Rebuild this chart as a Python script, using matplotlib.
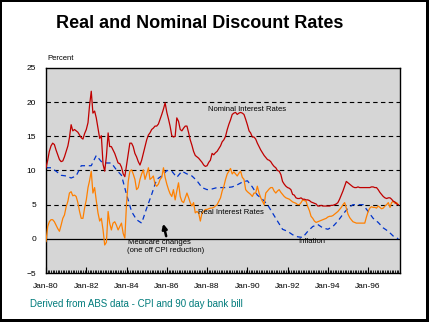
import numpy as np
import pandas as pd
import matplotlib
matplotlib.use('Agg')
from matplotlib import pyplot as plt
import matplotlib.dates as mdates
from matplotlib.patches import Rectangle

plt.rcParams['font.family'] = ['Liberation Sans', 'DejaVu Sans']

# monthly 90 day bank bill rate, Jan-80 .. Jul-97
nominal = [
    10.4, 11.5, 12.8, 13.6, 14.0, 13.8, 13.0, 12.3, 11.6, 11.3, 11.4, 12.0,
    12.8, 13.6, 14.8, 16.7, 15.8, 16.0, 15.8, 15.6, 15.2, 14.8, 14.6, 15.4,
    16.0, 17.0, 19.5, 21.6, 18.4, 18.7, 17.7, 16.2, 14.7, 15.1, 10.9, 9.9,
    12.1, 15.5, 13.5, 13.5, 13.0, 12.5, 11.8, 11.1, 11.0, 10.5, 9.5, 9.1,
    10.8, 12.5, 14.0, 14.0, 13.5, 12.5, 12.0, 11.3, 10.8, 11.5, 12.5, 13.5,
    14.5, 15.2, 15.5, 16.0, 16.2, 16.5, 16.5, 16.8, 17.5, 18.2, 19.0, 19.9,
    18.5, 17.5, 16.5, 15.1, 14.9, 15.0, 17.7, 17.2, 16.0, 15.8, 16.2, 16.5,
    16.5, 15.5, 14.5, 13.7, 12.8, 12.2, 12.0, 11.8, 11.5, 11.2, 10.8, 10.6,
    10.7, 11.2, 11.5, 12.5, 12.3, 12.6, 12.8, 13.2, 13.6, 14.2, 14.5, 15.0,
    16.0, 16.8, 17.4, 18.2, 18.4, 18.5, 18.2, 18.4, 18.5, 18.4, 18.2, 17.5,
    16.7, 15.8, 15.5, 14.9, 14.9, 14.6, 14.0, 13.5, 13.0, 12.6, 12.2, 11.9,
    11.6, 11.5, 11.3, 10.9, 10.6, 10.4, 10.0, 9.9, 9.4, 8.4, 8.0, 7.7,
    7.5, 7.4, 7.2, 6.5, 6.4, 6.0, 5.9, 5.9, 6.0, 5.8, 5.8, 5.7,
    5.7, 5.6, 5.4, 5.3, 5.2, 5.1, 4.8, 4.8, 4.9, 4.8, 4.8, 4.8,
    4.8, 4.8, 4.9, 4.9, 5.0, 5.1, 5.3, 5.8, 6.4, 7.0, 7.7, 8.4,
    8.2, 8.0, 7.8, 7.6, 7.5, 7.5, 7.6, 7.5, 7.5, 7.5, 7.5, 7.5,
    7.5, 7.5, 7.6, 7.6, 7.5, 7.5, 7.2, 6.8, 6.5, 6.2, 6.0, 5.9,
    6.0, 6.0, 5.8, 5.5, 5.4, 5.1, 5.0,
]

# monthly real rate
real = [
    -0.4, 1.8, 2.5, 2.8, 2.8, 2.5, 2.0, 1.5, 1.1, 2.0, 3.0, 3.5,
    4.7, 5.5, 6.7, 6.9, 6.3, 6.4, 6.2, 5.3, 4.0, 3.0, 3.0, 4.5,
    5.7, 7.5, 8.5, 9.9, 6.7, 7.5, 5.6, 3.8, 2.6, 3.0, 1.3, -0.9,
    -0.5, 4.0, 2.3, 1.3, 2.3, 2.5, 2.0, 1.3, 1.8, 2.3, 0.8, 0.1,
    5.2, 8.4, 9.9, 10.1, 9.5, 8.7, 7.2, 7.5, 8.7, 9.5, 10.1, 8.7,
    9.5, 10.4, 8.7, 8.9, 9.2, 8.0, 7.7, 8.0, 8.7, 9.0, 10.4, 9.0,
    8.0, 7.2, 6.6, 6.2, 7.2, 5.7, 7.0, 8.2, 6.2, 5.5, 5.3, 6.0,
    6.7, 6.0, 5.3, 4.8, 5.3, 3.8, 4.0, 3.8, 2.6, 3.8, 4.0, 4.3,
    4.3, 4.4, 4.5, 4.5, 4.6, 4.8, 5.0, 5.5, 6.0, 7.0, 7.7, 8.7,
    9.5, 9.9, 10.3, 9.5, 9.8, 9.5, 9.2, 9.6, 9.9, 9.0, 8.7, 7.2,
    6.9, 6.7, 6.5, 6.2, 6.7, 6.7, 7.7, 6.7, 6.0, 5.5, 5.0, 6.7,
    7.0, 7.3, 7.5, 7.5, 7.0, 6.7, 7.0, 7.2, 6.8, 6.5, 6.2, 6.0,
    5.9, 5.8, 5.6, 5.4, 5.3, 5.2, 5.0, 5.0, 5.3, 5.7, 5.6, 5.5,
    4.7, 4.1, 3.3, 3.0, 2.6, 2.4, 2.5, 2.6, 2.7, 2.8, 2.9, 3.0,
    3.2, 3.3, 3.3, 3.4, 3.6, 3.8, 4.0, 4.3, 4.6, 5.0, 5.3, 4.5,
    3.6, 3.1, 2.8, 2.5, 2.4, 2.3, 2.3, 2.3, 2.3, 2.3, 2.3, 3.2,
    4.0, 4.5, 4.7, 4.6, 4.6, 4.5, 4.8, 4.6, 4.4, 4.5, 4.8, 5.0,
    5.3, 4.6, 5.3, 5.5, 5.2, 5.3, 5.0,
]

# quarterly CPI inflation, Jan-80 .. Jul-97
inflation = [
    10.4, 10.4, 9.9, 9.3,
    9.2, 8.9, 9.2, 10.7,
    10.7, 10.7, 12.2, 11.3,
    11.1, 11.1, 10.1, 9.3,
    6.5, 4.0, 2.8, 2.3,
    4.5, 6.5, 8.7, 9.2,
    10.0, 9.9, 9.0, 9.9,
    9.5, 9.2, 8.5, 7.5,
    7.2, 7.3, 7.5, 7.5,
    7.5, 7.6, 7.9, 8.3,
    8.5, 7.6, 6.4, 5.8,
    5.0, 3.8, 2.6, 1.4,
    1.1, 0.6, 0.3, 0.2,
    1.1, 1.8, 2.1, 1.6,
    1.4, 1.8, 2.6, 3.6,
    4.5, 5.0, 5.0, 5.0,
    4.0, 3.0, 2.4, 1.6,
    1.1, 0.4, 0.0,
]

months = pd.date_range('1980-01-01', periods=len(nominal), freq='MS')
quarters = pd.date_range('1980-01-01', periods=len(inflation), freq='QS')

fig = plt.figure(figsize=(4.29, 3.22), dpi=100)
ax = fig.add_axes([46 / 429, 1 - 273 / 322, 354 / 429, 205 / 322])
ax.set_facecolor('#d6d6d6')

for v in [5, 10, 15, 20]:
    ax.axhline(v, color='black', lw=0.8, ls=(0, (4, 3)), zorder=1)
ax.axhline(0, color='black', lw=0.9, zorder=1)

ax.plot(quarters, inflation, color='#0033cc', lw=0.9, ls=(0, (4, 3)), zorder=2)
ax.plot(months, real, color='#ff8000', lw=0.9, zorder=3)
ax.plot(months, nominal, color='#c00000', lw=0.9, zorder=4)

ax.set_xlim(pd.Timestamp('1980-01-01'), pd.Timestamp('1997-08-01'))
ax.set_ylim(-5, 25)
ax.set_yticks([-5, 0, 5, 10, 15, 20, 25])
ax.xaxis.set_major_locator(mdates.YearLocator(2))
ax.xaxis.set_minor_locator(mdates.MonthLocator())
ax.xaxis.set_major_formatter(mdates.DateFormatter('%b-%y'))
ax.tick_params(axis='x', which='major', direction='in', length=4, width=0.8, labelsize=6, pad=7)
ax.tick_params(axis='x', which='minor', direction='in', length=2, width=0.6)
ax.tick_params(axis='y', length=0, labelsize=6, pad=7)
for s in ax.spines.values():
    s.set_linewidth(1.0)

ax.text(47 / 429, 1 - 59 / 322, 'Percent', transform=fig.transFigure, fontsize=5.5, va='center')

ax.text(pd.Timestamp('1990-01-01'), 18.9, 'Nominal Interest Rates', fontsize=5.5, ha='center', va='center')
ax.text(pd.Timestamp('1989-03-01'), 3.8, 'Real Interest Rates', fontsize=5.5, ha='center', va='center')
ax.text(pd.Timestamp('1993-03-15'), -0.4, 'Inflation', fontsize=5.5, ha='center', va='center')
ax.text(pd.Timestamp('1985-08-15'), -0.6, 'Medicare changes', fontsize=5.5, ha='center', va='center')
ax.text(pd.Timestamp('1985-12-01'), -1.75, '(one off CPI reduction)', fontsize=5.5, ha='center', va='center')
ax.annotate('', xy=(pd.Timestamp('1985-10-15'), 2.6), xytext=(pd.Timestamp('1986-01-01'), 0),
            arrowprops=dict(arrowstyle='-|>', color='black', lw=1.8, mutation_scale=7))

fig.text(200 / 429, 1 - 23 / 322, 'Real and Nominal Discount Rates', fontsize=13,
         fontweight='bold', ha='center', va='center')
fig.text(30 / 429, 1 - 304 / 322, 'Derived from ABS data - CPI and 90 day bank bill',
         fontsize=7, color='#007b7b', va='center')

# black frame with heavier right/bottom edge
for r in [(0, 0, 1.5 / 429, 1), (0, 1 - 1.5 / 322, 1, 1.5 / 322),
          (1 - 3.5 / 429, 0, 3.5 / 429, 1), (0, 0, 1, 3.5 / 322)]:
    fig.add_artist(Rectangle(r[:2], r[2], r[3], transform=fig.transFigure, color='black', lw=0))

fig.savefig('out.png', dpi=100)
